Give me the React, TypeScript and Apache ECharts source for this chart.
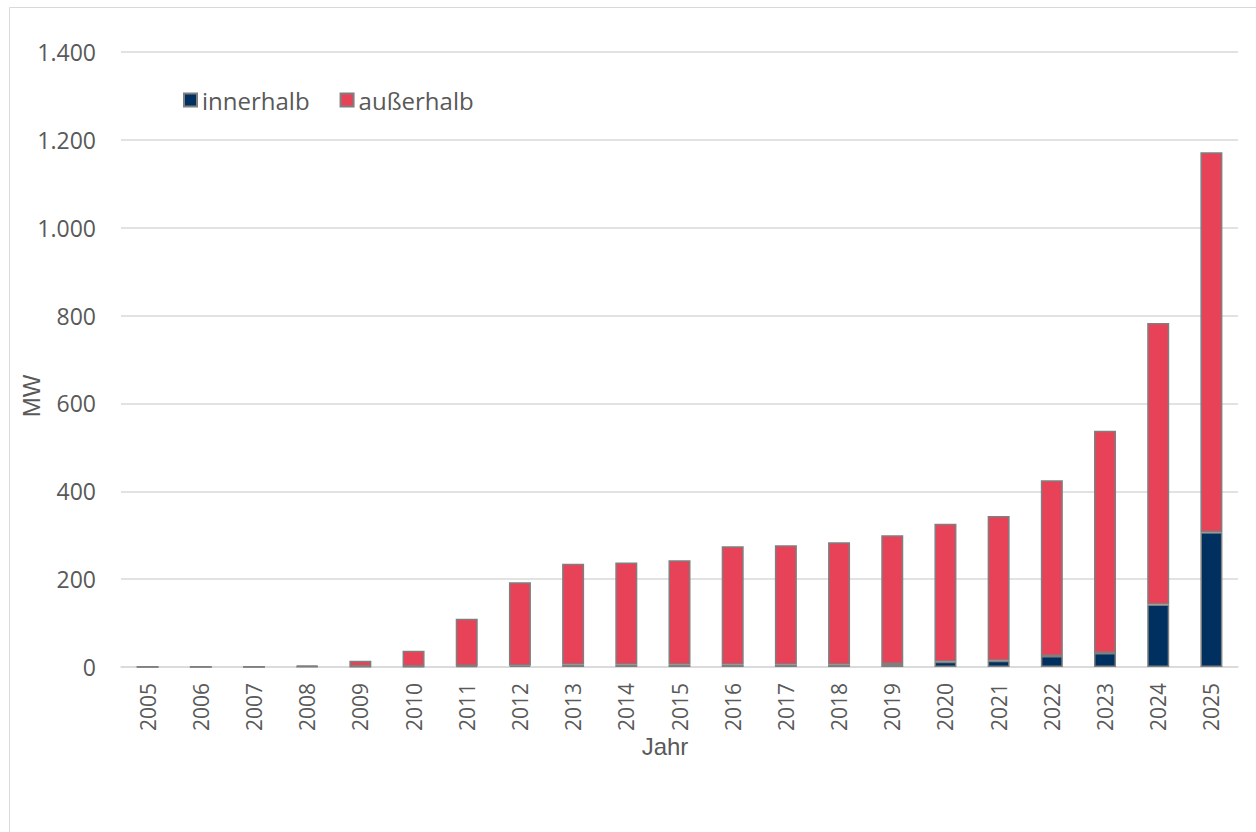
import React, { useEffect, useRef } from "react";
import * as echarts from "echarts";

const years = ["2005","2006","2007","2008","2009","2010","2011","2012","2013","2014","2015","2016","2017","2018","2019","2020","2021","2022","2023","2024","2025"];
const innerhalb = [0, 0, 0, 1, 1, 1, 2, 3, 5, 5, 5, 5, 5, 5, 7, 12, 14, 25, 32, 142, 307];
const ausserhalb = [1, 1, 1, 2, 13, 36, 108, 190, 230, 233, 238, 270, 272, 279, 293, 314, 330, 400, 506, 641, 865];
const seriesNames = ["innerhalb", "außerhalb"];
const yTicks = { min: 0, max: 1400, interval: 200 };
const xTitle = "Jahr";
const yTitle = "MW";

const fmt = (v: number) => String(v).replace(/\B(?=(\d{3})+(?!\d))/g, ".");

export default function App() {
  const ref = useRef<HTMLDivElement>(null);
  useEffect(() => {
    if (!ref.current) return;
    const chart = echarts.init(ref.current, null, { renderer: "svg" });
    const labelColor = "#595959";
    chart.setOption({
      animation: false,
      backgroundColor: "#ffffff",
      graphic: [
        {
          type: "rect",
          shape: { x: 9.5, y: 7.5, width: 1270, height: 850 },
          style: { fill: "none", stroke: "#d9d9d9", lineWidth: 1 },
          silent: true,
        },
        {
          type: "text",
          x: 31,
          y: 396,
          rotation: Math.PI / 2,
          style: { text: yTitle, fill: labelColor, font: "24px 'Liberation Sans'", align: "center", verticalAlign: "middle" },
          silent: true,
        },
        {
          type: "text",
          x: 665,
          y: 746,
          style: { text: xTitle, fill: labelColor, font: "24px 'Liberation Sans'", align: "center", verticalAlign: "middle" },
          silent: true,
        },
      ],
      legend: {
        left: 183,
        top: 88,
        padding: 0,
        itemWidth: 13,
        itemHeight: 13,
        itemGap: 30,
        icon: "rect",
        textStyle: { fontFamily: "Open Sans", fontSize: 24, color: labelColor },
        data: seriesNames,
      },
      grid: { left: 121, right: 18, top: 52, bottom: 165, containLabel: false },
      xAxis: {
        type: "category",
        data: years,
        axisLine: { show: true, lineStyle: { color: "#d9d9d9", width: 1.5 } },
        axisTick: { show: false },
        axisLabel: { rotate: 90, margin: 16, fontFamily: "Open Sans", fontSize: 21, color: labelColor },
      },
      yAxis: {
        type: "value",
        min: yTicks.min,
        max: yTicks.max,
        interval: yTicks.interval,
        axisLine: { show: false },
        axisTick: { show: false },
        splitLine: { lineStyle: { color: "#d9d9d9", width: 1.5 } },
        axisLabel: { margin: 25, fontFamily: "Open Sans", fontSize: 23, color: labelColor, formatter: (v: number) => fmt(v) },
      },
      series: [
        {
          name: seriesNames[0],
          type: "bar",
          stack: "total",
          barWidth: 22,
          data: innerhalb,
          itemStyle: { color: "#003060", borderColor: "#7f7f7f", borderWidth: 1.5 },
        },
        {
          name: seriesNames[1],
          type: "bar",
          stack: "total",
          barWidth: 22,
          data: ausserhalb,
          itemStyle: { color: "#e84258", borderColor: "#7f7f7f", borderWidth: 1.5 },
        },
      ],
    });
    return () => chart.dispose();
  }, []);
  return (
    <div style={{ position: "fixed", left: 0, top: 0, width: 1256, height: 832, overflow: "hidden", background: "#fff" }}>
      <div ref={ref} style={{ width: 1256, height: 832 }} />
    </div>
  );
}
